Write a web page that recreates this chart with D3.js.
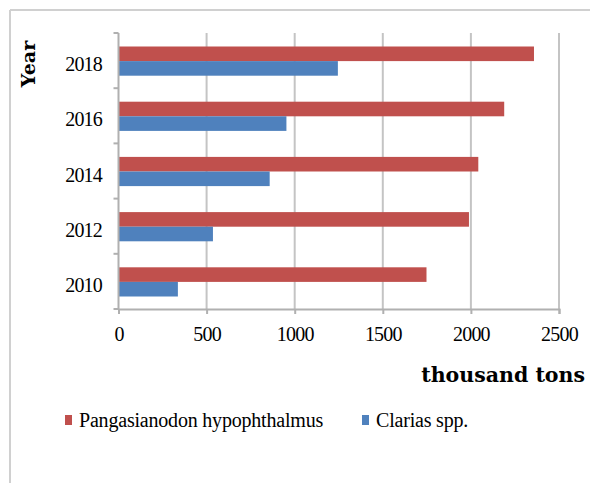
<!DOCTYPE html>
<html>
<head>
<meta charset="utf-8">
<script src="https://cdn.jsdelivr.net/npm/d3@7"></script>
<style>
  html, body { margin: 0; padding: 0; background: #fff; }
  svg { display: block; }
</style>
</head>
<body>
<svg id="chart" width="590" height="483"></svg>
<script>
// Production by year, thousand tons
const years = ["2010", "2012", "2014", "2016", "2018"];
const pangasius = [1748, 1989, 2042, 2189, 2358];
const clarias = [337, 536, 858, 953, 1245];
const xTicks = [0, 500, 1000, 1500, 2000, 2500];
const seriesNames = ["Pangasianodon hypophthalmus", "Clarias spp."];
const seriesColors = ["#C0504D", "#4F81BD"];

const SERIF = "Liberation Serif, Times New Roman, serif";
const SERIF_BOLD = "DejaVu Serif, serif";

const svg = d3.select("#chart");

// outer frame (top and left edges visible)
svg.append("line").attr("x1", 10).attr("x2", 590).attr("y1", 10).attr("y2", 10)
  .attr("stroke", "#d0d0d0").attr("stroke-width", 2);
svg.append("line").attr("x1", 10).attr("x2", 10).attr("y1", 10).attr("y2", 483)
  .attr("stroke", "#d0d0d0").attr("stroke-width", 2);

const plotL = 118.5, plotR = 559, plotT = 33, plotB = 309;

const x = d3.scaleLinear().domain([0, 2500]).range([plotL, plotR]);
// top-to-bottom order: newest year first
const y = d3.scaleBand().domain(years.slice().reverse()).range([plotT, plotB]);
const inner = d3.scaleBand().domain([0, 1]).range([13.5, y.bandwidth() - 12.5]);

// vertical gridlines
svg.append("g").selectAll("line").data(xTicks.slice(1)).join("line")
  .attr("x1", d => x(d)).attr("x2", d => x(d))
  .attr("y1", plotT).attr("y2", plotB)
  .attr("stroke", "#c4c4c4").attr("stroke-width", 2);

// bars
const rows = years.map((yr, i) => ({ yr, vals: [pangasius[i], clarias[i]] }));
const g = svg.append("g");
rows.forEach(r => {
  r.vals.forEach((v, k) => {
    g.append("rect")
      .attr("x", x(0))
      .attr("y", y(r.yr) + inner(k))
      .attr("width", x(v) - x(0))
      .attr("height", inner.bandwidth())
      .attr("fill", seriesColors[k]);
  });
});

// x axis
const xAxis = svg.append("g").attr("transform", `translate(0,${plotB})`)
  .call(d3.axisBottom(x).tickValues(xTicks).tickFormat(d3.format("d"))
    .tickSize(5).tickPadding(13));
xAxis.attr("font-family", SERIF).attr("font-size", 20);
xAxis.select(".domain").attr("stroke", "#b0b0b0").attr("stroke-width", 2);
xAxis.selectAll(".tick line").attr("stroke", "#b0b0b0").attr("stroke-width", 2);
xAxis.selectAll("text").attr("fill", "#000").attr("letter-spacing", -0.8);

// y axis with tick marks at band boundaries
const yAxisG = svg.append("g");
yAxisG.append("line").attr("x1", plotL).attr("x2", plotL).attr("y1", plotT).attr("y2", plotB)
  .attr("stroke", "#b0b0b0").attr("stroke-width", 2);
const bounds = years.map(yr => y(yr)).concat([plotB]);
yAxisG.selectAll("line.tk").data(bounds).join("line").attr("class", "tk")
  .attr("x1", plotL - 5).attr("x2", plotL).attr("y1", d => d).attr("y2", d => d)
  .attr("stroke", "#b0b0b0").attr("stroke-width", 2);
yAxisG.selectAll("text").data(years).join("text")
  .attr("x", 102).attr("y", d => y(d) + y.bandwidth() / 2 + 3.5)
  .attr("dy", "0.35em").attr("text-anchor", "end")
  .attr("font-family", SERIF).attr("font-size", 20).attr("letter-spacing", -0.8)
  .text(d => d);

// axis titles
svg.append("text")
  .attr("transform", "translate(35,64) rotate(-90)")
  .attr("text-anchor", "middle")
  .attr("font-family", SERIF_BOLD).attr("font-size", 19).attr("font-weight", "bold")
  .text("Year");
svg.append("text")
  .attr("x", 585).attr("y", 382).attr("text-anchor", "end")
  .attr("font-family", SERIF_BOLD).attr("font-size", 20.5).attr("font-weight", "bold")
  .text("thousand tons");

// legend
const legendX = [65, 362];
seriesNames.forEach((name, k) => {
  svg.append("rect").attr("x", legendX[k]).attr("y", 415)
    .attr("width", 7).attr("height", 10).attr("fill", seriesColors[k]);
  svg.append("text").attr("x", legendX[k] + 14).attr("y", 427)
    .attr("font-family", SERIF).attr("font-size", 20).attr("letter-spacing", -0.2)
    .text(name);
});
</script>
</body>
</html>
